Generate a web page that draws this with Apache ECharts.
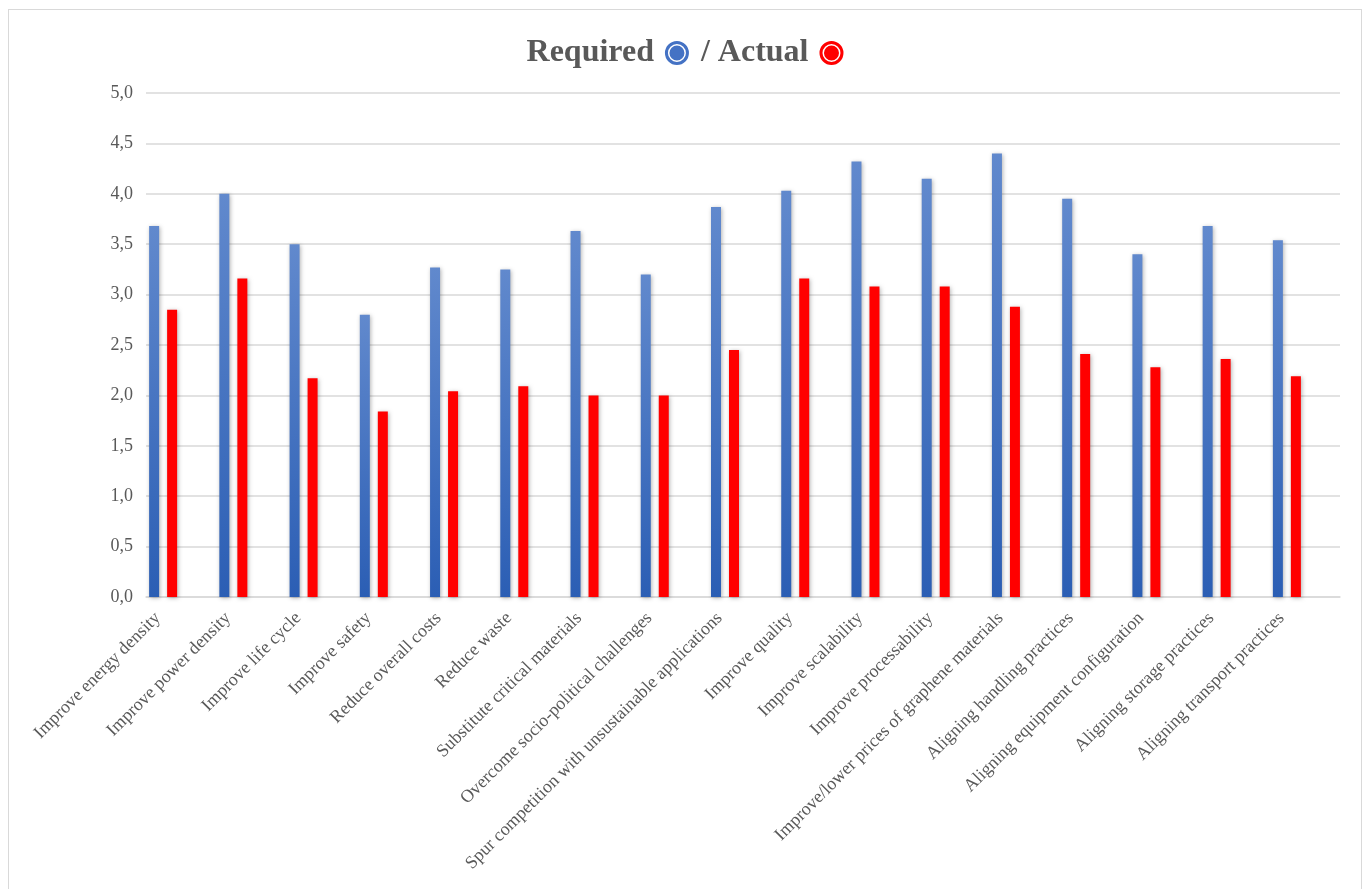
<!DOCTYPE html>
<html>
<head>
<meta charset="utf-8">
<script src="https://cdn.jsdelivr.net/npm/echarts@6/dist/echarts.min.js"></script>
<style>
  html, body { margin: 0; padding: 0; background: #fff; }
  #frame {
    position: absolute; left: 8px; top: 9px; width: 1354px; height: 900px;
    border: 1px solid #d9d9d9; box-sizing: border-box;
  }
  #chart { position: absolute; left: 0; top: 0; width: 1370px; height: 889px; }
</style>
</head>
<body>
<div id="frame"></div>
<div id="chart"></div>
<script>
var categories = [
  "Improve energy density",
  "Improve power density",
  "Improve life cycle",
  "Improve safety",
  "Reduce overall costs",
  "Reduce waste",
  "Substitute critical materials",
  "Overcome socio-political challenges",
  "Spur competition with unsustainable applications",
  "Improve quality",
  "Improve scalability",
  "Improve processability",
  "Improve/lower prices of graphene materials",
  "Aligning handling practices",
  "Aligning equipment configuration",
  "Aligning storage practices",
  "Aligning transport practices"
]
var required = [3.68, 4.00, 3.50, 2.80, 3.27, 3.25, 3.63, 3.20, 3.87, 4.03, 4.32, 4.15, 4.40, 3.95, 3.40, 3.68, 3.54]
var actual = [2.85, 3.16, 2.17, 1.84, 2.04, 2.09, 2.00, 2.00, 2.45, 3.16, 3.08, 3.08, 2.88, 2.41, 2.28, 2.36, 2.19]

var serif = "'Liberation Serif', 'Times New Roman', serif"
var grey = "#595959"
// ring + disk marker used in the title line
var ringIcon = "path://M0,12 A12,12 0 1,1 24,12 A12,12 0 1,1 0,12 Z M3,12 A9,9 0 1,0 21,12 A9,9 0 1,0 3,12 Z M4.5,12 A7.5,7.5 0 1,1 19.5,12 A7.5,7.5 0 1,1 4.5,12 Z"

var myChart = echarts.init(document.getElementById("chart"))
var option = {
  animation: false,
  legend: {
    top: 32,
    left: "center",
    align: "right",
    icon: ringIcon,
    itemWidth: 24,
    itemHeight: 24,
    itemGap: 12,
    selectedMode: false,
    formatter: function (name) {
      return name === "Actual" ? "/ Actual" : name
    },
    textStyle: {
      fontFamily: serif,
      fontWeight: "bold",
      fontSize: 32,
      color: grey,
      padding: [0, 6, 0, 0]
    },
    data: [
      { name: "Required", itemStyle: { color: "#4472c4" } },
      { name: "Actual", itemStyle: { color: "#ff0000" } }
    ]
  },
  grid: {
    left: 146,
    right: 30,
    top: 93,
    bottom: 292
  },
  xAxis: {
    type: "category",
    data: categories,
    axisTick: { show: false },
    axisLine: { lineStyle: { color: "#d9d9d9", width: 1.5 } },
    axisLabel: {
      interval: 0,
      rotate: 45,
      margin: -5,
      padding: [0, 33, 0, 0],
      fontFamily: serif,
      fontSize: 18,
      color: grey
    }
  },
  yAxis: {
    type: "value",
    min: 0,
    max: 5,
    interval: 0.5,
    axisLine: { show: false },
    axisTick: { show: false },
    splitLine: { lineStyle: { color: "#d9d9d9", width: 1.5 } },
    axisLabel: {
      margin: 13,
      fontFamily: serif,
      fontSize: 18,
      color: grey,
      formatter: function (v) { return v.toFixed(1).replace(".", ",") }
    }
  },
  series: [
    {
      name: "Required",
      type: "bar",
      data: required,
      barWidth: 10,
      barGap: "80%",
      itemStyle: {
        color: new echarts.graphic.LinearGradient(0, 0, 0, 1, [
          { offset: 0, color: "#6189cd" },
          { offset: 1, color: "#2b5eb4" }
        ]),
        shadowBlur: 4,
        shadowColor: "rgba(0,0,0,0.3)",
        shadowOffsetX: 1,
        shadowOffsetY: 1
      }
    },
    {
      name: "Actual",
      type: "bar",
      data: actual,
      barWidth: 10,
      barGap: "80%",
      itemStyle: {
        color: "#ff0000",
        shadowBlur: 4,
        shadowColor: "rgba(0,0,0,0.3)",
        shadowOffsetX: 1,
        shadowOffsetY: 1
      }
    },
    // two empty slots, the chart keeps room for them on the right of each pair
    { name: "slot3", type: "bar", data: [], barWidth: 10, barGap: "80%" },
    { name: "slot4", type: "bar", data: [], barWidth: 10, barGap: "80%" }
  ]
}
myChart.setOption(option)
</script>
</body>
</html>
